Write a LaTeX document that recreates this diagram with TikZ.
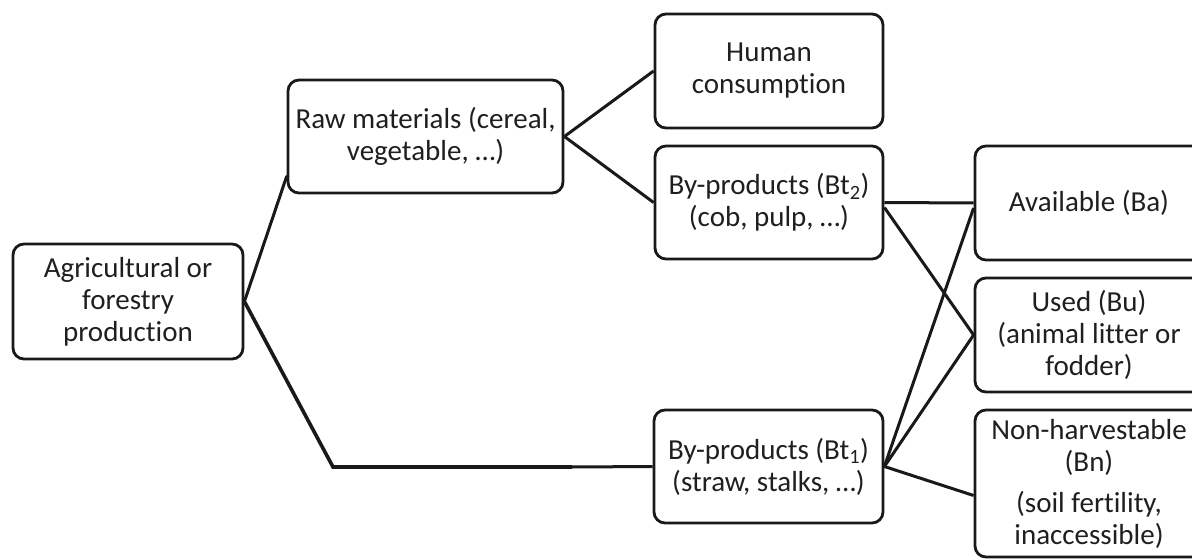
\documentclass[tikz,border=0pt]{standalone}
\usepackage{fontspec}
\setmainfont{Carlito}[Ligatures={NoCommon}]
\begin{document}
\begin{tikzpicture}[x=1pt,y=-1pt,
  box/.style={draw=black!90, line width=2.8pt, rounded corners=11pt, align=center,
    inner sep=0pt, font=\fontsize{29}{32}\selectfont, text=black!88},
  conn/.style={draw=black!90, line width=3pt}]
\useasboundingbox (0,0) rectangle (1192,559);
\clip (0,0) rectangle (1192,559);
\node[box, minimum width=230pt, minimum height=115pt] (agri) at (128,301.5) {Agricultural or\\forestry\\production};
\node[box, minimum width=275pt, minimum height=113pt] (raw) at (425.5,136.5) {Raw materials (cereal,\\vegetable, \dots)};
\node[box, minimum width=228pt, minimum height=114pt] (human) at (769,71) {Human\\consumption};
\node[box, minimum width=228pt, minimum height=113pt] (bt2) at (769,202.5) {By-products (Bt\textsubscript{2})\\(cob, pulp, \dots)};
\node[box, minimum width=229pt, minimum height=113pt] (bt1) at (768.5,466.5) {By-products (Bt\textsubscript{1})\\(straw, stalks, \dots)};
\node[box, minimum width=228pt, minimum height=114pt] (avail) at (1089,203) {Available (Ba)};
\node[box, minimum width=228pt, minimum height=114pt] (used) at (1089,335) {Used (Bu)\\(animal litter or\\fodder)};
\node[box, minimum width=228pt, minimum height=147pt] (nonh) at (1089,483.5) {Non-harvestable\\(Bn)\\[9pt](soil fertility,\\inaccessible)};
\coordinate (bend) at (333,467);
\coordinate (thin) at (572,467);
\draw[conn, line cap=round] (agri.east) -- ([yshift=-40pt]raw.west);
\draw[conn, line width=3.6pt, line join=miter] (agri.east) -- (bend) -- (thin);
\draw[conn] (thin) -- (bt1.west);
\draw[conn] (raw.east) -- (human.west);
\draw[conn] (raw.east) -- (bt2.west);
\draw[conn] (bt2.east) -- (avail.west);
\draw[conn] ([yshift=-5pt]bt2.east) -- (used.west);
\draw[conn] (bt1.east) -- ([yshift=-5pt]avail.west);
\draw[conn] (bt1.east) -- (used.west);
\draw[conn] (bt1.east) -- ([yshift=-12pt]nonh.west);
\end{tikzpicture}
\end{document}
